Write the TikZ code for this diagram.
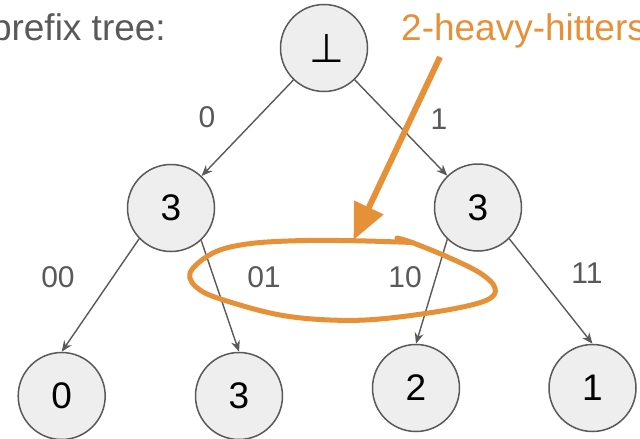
\documentclass[tikz,border=0pt]{standalone}
\usepackage{fontspec}
\setmainfont{Liberation Sans}
\newfontfamily\djv{DejaVu Sans}
\usetikzlibrary{arrows.meta}
\definecolor{edgegray}{HTML}{595959}
\definecolor{nodefill}{HTML}{EEEEEE}
\definecolor{hhorange}{HTML}{E69138}
\begin{document}
\begin{tikzpicture}[x=1pt,y=-1pt,
  tnode/.style={circle,draw=edgegray,fill=nodefill,line width=1.5pt,minimum size=87pt,inner sep=0pt,font=\fontsize{37}{40}\selectfont},
  elabel/.style={text=edgegray,inner sep=0pt,font=\fontsize{30}{32}\selectfont},
  tedge/.style={draw=edgegray,line width=1.4pt,-{Stealth[length=11pt,width=9pt]}},
  hh/.style={draw=hhorange,line width=5pt,line cap=round,line join=round}]
\useasboundingbox (0,0) rectangle (640,439);
\fill[white] (0,0) rectangle (640,439);
% title texts
\node[anchor=base east,inner sep=0pt,text=edgegray,font=\fontsize{37}{40}\selectfont] (title) at (166,40) {prefix tree:};
\node[anchor=base west,inner sep=0pt,text=hhorange,font=\fontsize{37}{40}\selectfont] (hhtext) at (401,40) {2-heavy-hitters};
% nodes
\node[tnode] (root) at (324,48) {\hspace*{6pt}{\djv\fontsize{40}{42}\selectfont ⊥}};
\node[tnode] (L) at (171,208) {3};
\node[tnode] (R) at (478,207.5) {3};
\node[tnode] (B0) at (61.7,396) {0};
\node[tnode] (B3) at (239,396) {3};
\node[tnode] (B2) at (416,388) {2};
\node[tnode] (B1) at (592.5,388) {1};
% edges
\draw[tedge] (root) -- (L);
\draw[tedge] (root) -- (R);
\draw[tedge] (L.224) -- (B0.north);
\draw[tedge] (L.313) -- (B3.north);
\draw[tedge] (R.226) -- (B2.north);
\draw[tedge] (R.315) -- (B1.north);
% edge labels
\node[elabel] (l0) at (207,117) {0};
\node[elabel] (l1) at (439,119) {1};
\node[elabel] (l00) at (58,277) {00};
\node[elabel] (l01) at (264,277.5) {01};
\node[elabel] (l10) at (405,277.5) {10};
\node[elabel] (l11) at (587,273) {11};
% orange ellipse
\draw[hh] plot[smooth,tension=0.6] coordinates {(397,238) (412,242.5) (447,256.7) (480,273) (495,288) (487,300) (447,310) (380,319) (330,320) (280,315) (230,302) (200,290) (190,273) (213,253) (247,244) (297,240.7) (353,240.7) (413,242.5)};
% orange arrow
\coordinate (hstart) at (440,57);
\coordinate (htip) at (353.5,240);
\draw[draw=hhorange,fill=hhorange,line width=6pt,-{Triangle[length=36pt,width=31pt]}] (hstart) -- (htip);
\end{tikzpicture}
\end{document}
